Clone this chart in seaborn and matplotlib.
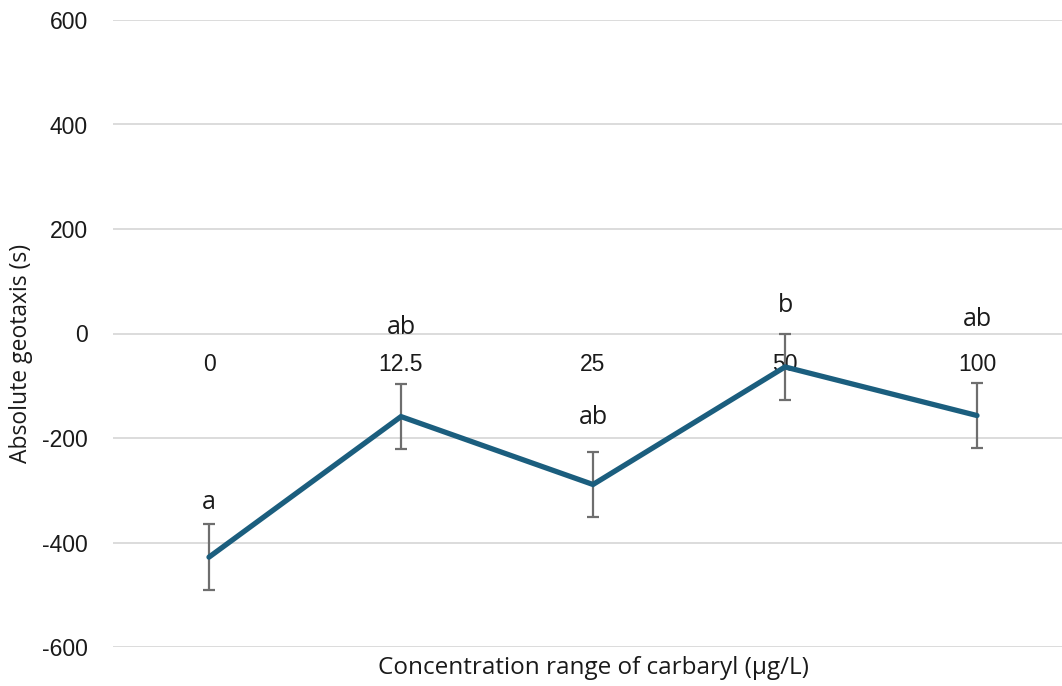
import matplotlib
matplotlib.use("Agg")
import matplotlib.pyplot as plt
import seaborn as sns
import pandas as pd
import numpy as np

# Data
concentrations = ["0", "12.5", "25", "50", "100"]
mean_geotaxis = [-428, -159, -289, -64, -157]
sem_geotaxis = [63, 63, 63, 63, 63]
sig_letters = ["a", "ab", "ab", "b", "ab"]
letter_y = [-324, 12, -161, 54, 26]
y_ticks = [-600, -400, -200, 0, 200, 400, 600]

sns.set_theme(style="white")
plt.rcParams["font.family"] = ["Liberation Sans", "DejaVu Sans"]

W, H = 1062, 686
fig = plt.figure(figsize=(W / 100, H / 100), dpi=100)
left, right_px, top, bot = 113, 1073, 20, 647
ax = fig.add_axes([left / W, (H - bot) / H, (W - left) / W, (bot - top) / H])

df = pd.DataFrame({"x": np.arange(len(concentrations)), "y": mean_geotaxis})
sns.lineplot(data=df, x="x", y="y", ax=ax, color="#1B5E7E", linewidth=3.8,
             solid_capstyle="round", solid_joinstyle="miter", zorder=3)
ax.errorbar(df["x"], df["y"], yerr=sem_geotaxis, fmt="none", ecolor="#6E6E6E",
            elinewidth=1.6, capsize=4.5, capthick=1.6, zorder=2)

span = (right_px - left) / 192.0
ax.set_xlim(-0.5, -0.5 + span * (W - left) / (right_px - left))
ax.set_ylim(-600, 600)
ax.set_yticks(y_ticks)
ax.set_yticklabels([str(v) for v in y_ticks], fontsize=16.5, color="#1a1a1a")
ax.grid(axis="y", color="#D9D9D9", linewidth=1.3)
ax.grid(axis="x", visible=False)
for s in ax.spines.values():
    s.set_visible(False)
ax.spines["bottom"].set_position(("data", 0))
ax.set_xticks(df["x"])
ax.set_xticklabels(concentrations, fontsize=16.5, color="#1a1a1a")
ax.tick_params(axis="x", length=0, pad=14)
ax.tick_params(axis="y", length=0, pad=18)
ax.set_xlabel("")
ax.set_ylabel("")

for xi, (lt, ly) in enumerate(zip(sig_letters, letter_y)):
    ax.text(xi, ly, lt, ha="center", va="center", fontsize=18,
            family=["Open Sans", "DejaVu Sans"], color="#1a1a1a")

fig.text(593 / W, 1 - 668 / H, "Concentration range of carbaryl (µg/L)",
         ha="center", va="center", fontsize=17.5, family=["Open Sans", "DejaVu Sans"],
         color="#1a1a1a")
fig.text(21 / W, 1 - 353 / H, "Absolute geotaxis (s)", rotation=90,
         ha="center", va="center", fontsize=16.5, family=["Open Sans", "DejaVu Sans"],
         color="#1a1a1a")

fig.savefig("out.png", dpi=100)
